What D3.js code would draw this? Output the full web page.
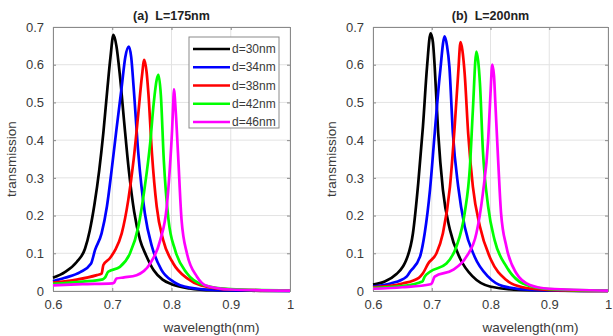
<!DOCTYPE html>
<html>
<head>
<meta charset="utf-8">
<script src="https://cdn.jsdelivr.net/npm/d3@7"></script>
<style>
  body { margin: 0; background: #fff; }
  svg { display: block; font-family: "Liberation Sans", Arial, sans-serif; }
</style>
</head>
<body>
<div class="demo"></div>
<script>
// tick values / labels
var xTicks = [0.6, 0.7, 0.8, 0.9, 1];
var yTicks = [0, 0.1, 0.2, 0.3, 0.4, 0.5, 0.6, 0.7];
var legendLabels = ['d=30nm', 'd=34nm', 'd=38nm', 'd=42nm', 'd=46nm'];
var colors = ['#000000', '#0000ff', '#ff0000', '#00ff00', '#ff00ff'];
var titles = ['(a)  L=175nm', '(b)  L=200nm'];

// panel (a) L=175nm, [wavelength, transmission]
var a30 = [[0.6,0.035],[0.62,0.05],[0.64,0.077],[0.654,0.112],[0.662,0.16],[0.670,0.23],[0.678,0.32],[0.685,0.42],[0.692,0.54],[0.697,0.62],[0.702,0.679],[0.707,0.65],[0.713,0.57],[0.720,0.45],[0.728,0.32],[0.737,0.21],[0.747,0.135],[0.757,0.095],[0.770,0.055],[0.785,0.03],[0.80,0.018],[0.83,0.007],[0.87,0.002],[0.95,0.0005],[1.0,0]];
var a34 = [[0.6,0.026],[0.62,0.035],[0.646,0.05],[0.664,0.072],[0.671,0.109],[0.682,0.153],[0.691,0.224],[0.699,0.321],[0.707,0.427],[0.716,0.542],[0.722,0.62],[0.728,0.648],[0.732,0.62],[0.736,0.542],[0.744,0.365],[0.755,0.206],[0.767,0.118],[0.783,0.056],[0.803,0.025],[0.83,0.009],[0.87,0.003],[0.95,0.001],[1.0,0]];
var a38 = [[0.6,0.022],[0.64,0.03],[0.674,0.042],[0.682,0.046],[0.685,0.069],[0.696,0.087],[0.705,0.109],[0.716,0.153],[0.727,0.241],[0.736,0.347],[0.744,0.471],[0.750,0.568],[0.754,0.613],[0.758,0.58],[0.761,0.524],[0.767,0.365],[0.775,0.224],[0.786,0.135],[0.803,0.073],[0.826,0.034],[0.85,0.015],[0.9,0.004],[1.0,0.001]];
var a42 = [[0.6,0.019],[0.65,0.025],[0.684,0.031],[0.688,0.036],[0.693,0.051],[0.713,0.064],[0.730,0.10],[0.744,0.17],[0.755,0.277],[0.764,0.392],[0.770,0.498],[0.775,0.56],[0.778,0.573],[0.782,0.52],[0.787,0.347],[0.795,0.188],[0.806,0.109],[0.826,0.047],[0.854,0.016],[0.9,0.005],[1.0,0.001]];
var a46 = [[0.6,0.015],[0.65,0.018],[0.700,0.02],[0.703,0.022],[0.707,0.033],[0.720,0.036],[0.741,0.042],[0.764,0.073],[0.781,0.135],[0.792,0.224],[0.797,0.321],[0.801,0.427],[0.803,0.50],[0.804,0.535],[0.807,0.48],[0.811,0.365],[0.817,0.188],[0.826,0.10],[0.843,0.038],[0.859,0.014],[0.9,0.004],[1.0,0.001]];

// panel (b) L=200nm
var b30 = [[0.6,0.017],[0.62,0.025],[0.64,0.045],[0.651,0.065],[0.656,0.08],[0.668,0.153],[0.677,0.286],[0.685,0.436],[0.692,0.595],[0.698,0.683],[0.702,0.66],[0.705,0.595],[0.711,0.418],[0.719,0.268],[0.731,0.162],[0.748,0.087],[0.770,0.038],[0.799,0.012],[0.85,0.003],[1.0,0]];
var b34 = [[0.6,0.012],[0.63,0.02],[0.657,0.038],[0.663,0.051],[0.680,0.091],[0.688,0.153],[0.697,0.268],[0.705,0.418],[0.714,0.577],[0.722,0.675],[0.726,0.65],[0.730,0.595],[0.736,0.418],[0.745,0.277],[0.756,0.171],[0.773,0.091],[0.796,0.038],[0.821,0.013],[0.87,0.003],[1.0,0]];
var b38 = [[0.6,0.01],[0.65,0.02],[0.678,0.035],[0.685,0.047],[0.694,0.073],[0.708,0.10],[0.719,0.153],[0.731,0.277],[0.739,0.436],[0.745,0.577],[0.749,0.66],[0.752,0.64],[0.756,0.577],[0.762,0.418],[0.770,0.277],[0.782,0.171],[0.801,0.082],[0.827,0.029],[0.855,0.01],[0.9,0.003],[1.0,0]];
var b42 = [[0.6,0.008],[0.65,0.013],[0.684,0.025],[0.688,0.038],[0.697,0.051],[0.725,0.073],[0.742,0.118],[0.756,0.206],[0.765,0.33],[0.770,0.48],[0.776,0.635],[0.779,0.61],[0.782,0.551],[0.787,0.374],[0.796,0.224],[0.807,0.135],[0.827,0.065],[0.855,0.02],[0.9,0.005],[1.0,0.001]];
var b46 = [[0.6,0.006],[0.65,0.01],[0.698,0.018],[0.700,0.02],[0.705,0.038],[0.736,0.056],[0.759,0.091],[0.776,0.153],[0.787,0.259],[0.796,0.40],[0.800,0.524],[0.803,0.60],[0.806,0.57],[0.808,0.507],[0.813,0.347],[0.818,0.206],[0.827,0.118],[0.844,0.047],[0.867,0.016],[0.9,0.006],[1.0,0.001]];

var panels = [
  {x0: 53, x1: 290, title: titles[0], series: [a30, a34, a38, a42, a46], legend: true},
  {x0: 373, x1: 608, title: titles[1], series: [b30, b34, b38, b42, b46], legend: false}
];
var plotTop = 27, plotBottom = 291;

var svg = d3.select('.demo').append('svg').attr('width', 613).attr('height', 336);

panels.forEach(function(p){
  var xScale = d3.scaleLinear().domain([0.6, 1]).range([p.x0, p.x1]);
  var yScale = d3.scaleLinear().domain([0, 0.7]).range([plotBottom, plotTop]);
  var g = svg.append('g');

  // grid
  g.selectAll('.gx').data(xTicks).enter().append('line')
    .attr('x1', function(d){ return xScale(d); }).attr('x2', function(d){ return xScale(d); })
    .attr('y1', plotTop).attr('y2', plotBottom)
    .attr('stroke', '#e3e3e3').attr('stroke-width', 1);
  g.selectAll('.gy').data(yTicks).enter().append('line')
    .attr('x1', p.x0).attr('x2', p.x1)
    .attr('y1', function(d){ return yScale(d); }).attr('y2', function(d){ return yScale(d); })
    .attr('stroke', '#e3e3e3').attr('stroke-width', 1);

  // axes (matlab style ticks inside)
  var fmt = function(d){ return d === 0 || d === 1 ? String(d) : d3.format('.1f')(d); };
  var xAxis = g.append('g').attr('transform', 'translate(0,' + plotBottom + ')')
    .call(d3.axisBottom(xScale).tickValues(xTicks).tickSize(-3).tickPadding(9).tickFormat(fmt));
  var xTop = g.append('g').attr('transform', 'translate(0,' + plotTop + ')')
    .call(d3.axisTop(xScale).tickValues(xTicks).tickSize(-3).tickFormat(''));
  var yAxis = g.append('g').attr('transform', 'translate(' + p.x0 + ',0)')
    .call(d3.axisLeft(yScale).tickValues(yTicks).tickSize(-3).tickPadding(9).tickFormat(fmt));
  var yRight = g.append('g').attr('transform', 'translate(' + p.x1 + ',0)')
    .call(d3.axisRight(yScale).tickValues(yTicks).tickSize(-3).tickFormat(''));
  [xAxis, xTop, yAxis, yRight].forEach(function(a){
    a.select('.domain').attr('stroke', '#8a8a8a');
    a.selectAll('.tick line').attr('stroke', '#8a8a8a');
    a.selectAll('.tick text').attr('fill', '#3a3a3a').attr('font-size', '13px')
      .attr('font-family', '"Liberation Sans", Arial, sans-serif');
  });

  // curves
  var line = d3.line()
    .x(function(d){ return xScale(d[0]); })
    .y(function(d){ return yScale(d[1]); })
    .curve(d3.curveMonotoneX);
  g.selectAll('.curve').data(p.series).enter().append('path')
    .attr('d', line)
    .attr('fill', 'none')
    .attr('stroke', function(d, i){ return colors[i]; })
    .attr('stroke-width', 2.7)
    .attr('stroke-linejoin', 'round');

  // titles and labels
  g.append('text').text(p.title)
    .attr('x', (p.x0 + p.x1) / 2).attr('y', 20)
    .attr('text-anchor', 'middle').attr('font-size', '12.5px').attr('font-weight', 'bold')
    .attr('fill', '#222').attr('xml:space', 'preserve').style('white-space', 'pre');
  g.append('text').text('wavelength(nm)')
    .attr('x', (p.x0 + p.x1) / 2 + 40).attr('y', 332)
    .attr('text-anchor', 'middle').attr('font-size', '13.5px').attr('fill', '#3a3a3a');
  g.append('text').text('transmission')
    .attr('transform', 'translate(' + (p.x0 - 37) + ',' + ((plotTop + plotBottom) / 2) + ') rotate(-90)')
    .attr('text-anchor', 'middle').attr('font-size', '13.5px').attr('fill', '#3a3a3a');

  // legend
  if (p.legend){
    var lg = g.append('g');
    lg.append('rect').attr('x', 189).attr('y', 37).attr('width', 90).attr('height', 91)
      .attr('fill', '#fff').attr('stroke', '#8a8a8a').attr('stroke-width', 1);
    var ly = d3.scalePoint().domain(legendLabels).range([49, 122]);
    lg.selectAll('.li').data(legendLabels).enter().append('line')
      .attr('x1', 193).attr('x2', 230)
      .attr('y1', function(d){ return ly(d); }).attr('y2', function(d){ return ly(d); })
      .attr('stroke', function(d, i){ return colors[i]; }).attr('stroke-width', 2.7);
    lg.selectAll('.lt').data(legendLabels).enter().append('text')
      .text(function(d){ return d; })
      .attr('x', 232).attr('y', function(d){ return ly(d) + 4; })
      .attr('font-size', '12px').attr('fill', '#3a3a3a');
  }
});
</script>
</body>
</html>
